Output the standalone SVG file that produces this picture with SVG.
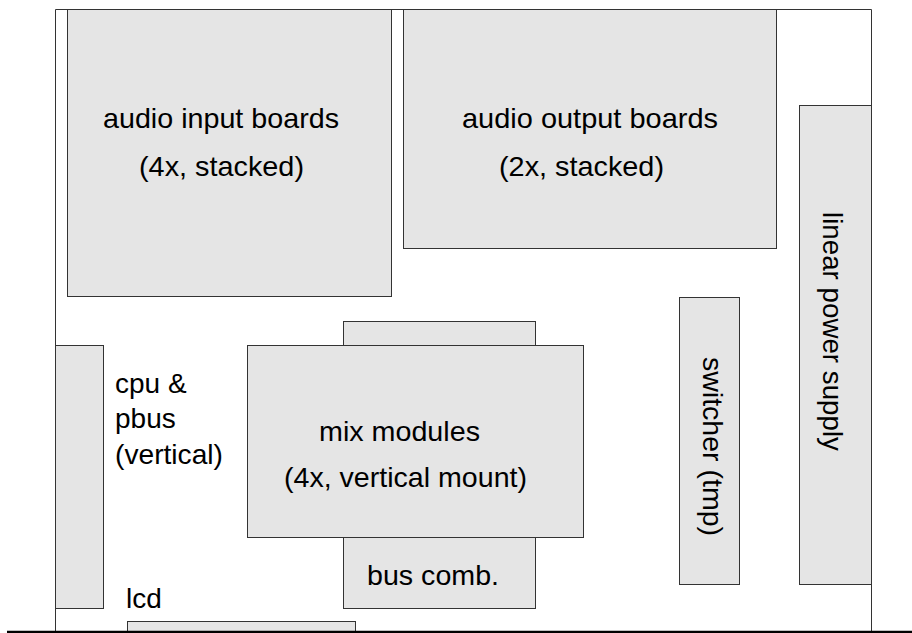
<svg xmlns="http://www.w3.org/2000/svg" width="912" height="633" viewBox="0 0 912 633">
  <style>
    .box { fill: #e5e5e5; stroke: #333; stroke-width: 1; }
    .frame { fill: none; stroke: #333; stroke-width: 1; }
    .base { fill: none; stroke: #000; stroke-width: 2.5; }
    text { font-family: "Liberation Sans", Arial, sans-serif; font-size: 28px; fill: #000; }
  </style>
  <rect width="912" height="633" fill="#fff"/>
  <g id="enclosure">
    <path class="frame" d="M55.5 9.5 H871.5 M55.5 9.5 V632 M871.5 9.5 V632"/>
  </g>
  <g id="audio-input-boards">
    <rect class="box" x="67.5" y="9.5" width="324" height="287"/>
    <text x="103" y="128" textLength="236" lengthAdjust="spacingAndGlyphs">audio input boards</text>
    <text x="139" y="176" textLength="165" lengthAdjust="spacingAndGlyphs">(4x, stacked)</text>
  </g>
  <g id="audio-output-boards">
    <rect class="box" x="403.5" y="9.5" width="373" height="239"/>
    <text x="462" y="128" textLength="256" lengthAdjust="spacingAndGlyphs">audio output boards</text>
    <text x="499" y="176" textLength="165" lengthAdjust="spacingAndGlyphs">(2x, stacked)</text>
  </g>
  <g id="linear-power-supply">
    <rect class="box" x="799.5" y="105.5" width="72" height="479"/>
    <text transform="translate(823 212) rotate(90)" textLength="239" lengthAdjust="spacingAndGlyphs">linear power supply</text>
  </g>
  <g id="switcher">
    <rect class="box" x="679.5" y="297.5" width="60" height="287"/>
    <text transform="translate(703 357) rotate(90)" textLength="179" lengthAdjust="spacingAndGlyphs">switcher (tmp)</text>
  </g>
  <g id="cpu-pbus">
    <rect class="box" x="55.5" y="345.5" width="48" height="263"/>
    <text x="115" y="393">cpu &amp;</text>
    <text x="115" y="428">pbus</text>
    <text x="115" y="464" textLength="108" lengthAdjust="spacingAndGlyphs">(vertical)</text>
  </g>
  <g id="bus-comb">
    <rect class="box" x="343.5" y="321.5" width="192" height="287"/>
    <text x="367" y="585" textLength="132" lengthAdjust="spacingAndGlyphs">bus comb.</text>
  </g>
  <g id="mix-modules">
    <rect class="box" x="247.5" y="345.5" width="336" height="192"/>
    <text x="319" y="441" textLength="161" lengthAdjust="spacingAndGlyphs">mix modules</text>
    <text x="284" y="487" textLength="243" lengthAdjust="spacingAndGlyphs">(4x, vertical mount)</text>
  </g>
  <g id="lcd">
    <rect class="box" x="127.5" y="621.5" width="228" height="14"/>
    <text x="126" y="608">lcd</text>
  </g>
  <g id="connectors"></g>
  <g id="baseline">
    <path class="base" d="M7 632 H912"/>
  </g>
</svg>
